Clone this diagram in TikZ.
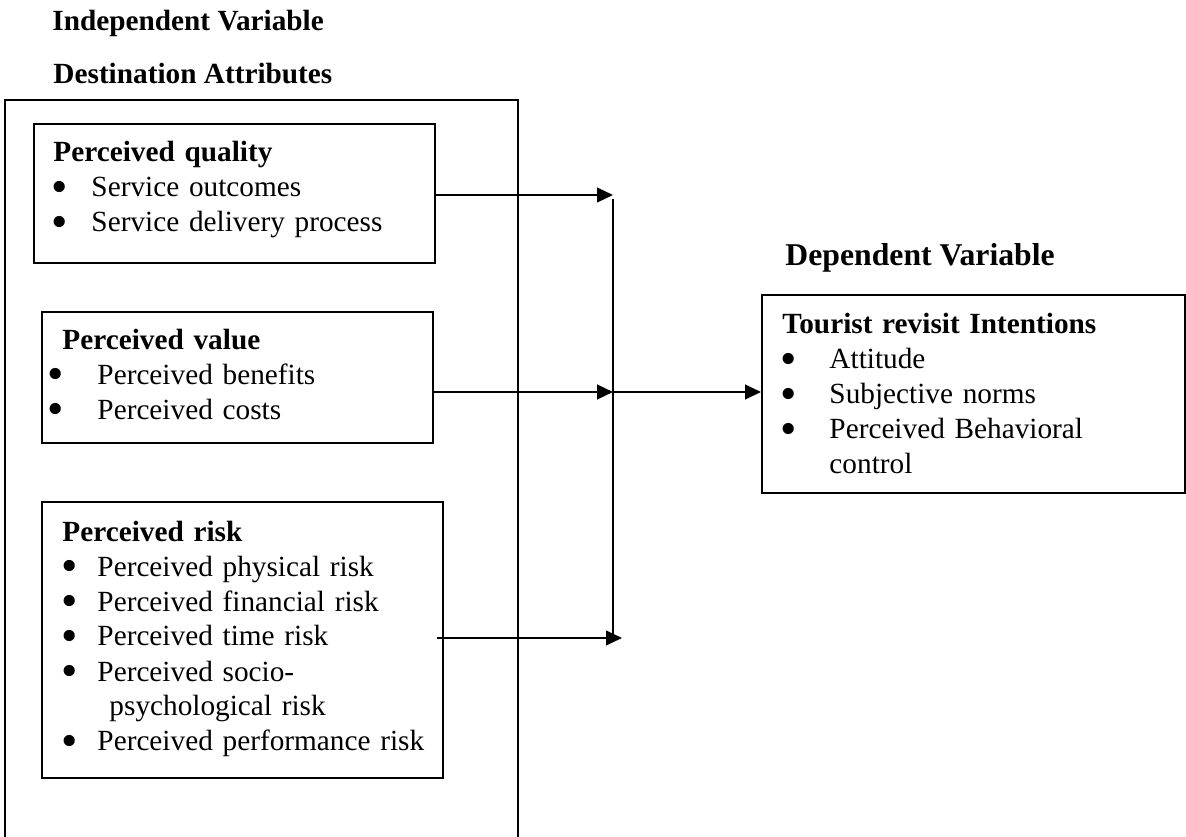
\documentclass[tikz,border=0pt]{standalone}
\usepackage{fontspec}
\setmainfont{Liberation Serif}
\usetikzlibrary{arrows.meta,positioning}
\newlength\pxu
\setlength\pxu{0.41pt}
% bullet line: bullet centre, text start (both from the node's left), text
\newcommand\bigdot{\smash{\raisebox{-0.2em}{\scalebox{1.6}{\textbullet}}}}
\newcommand\itm[3]{\makebox[#2\pxu][l]{\hspace*{#1\pxu}\makebox[0pt]{\bigdot}}#3}
\tikzset{
frame/.style={draw,line width=0.8pt,anchor=north west,inner sep=0pt},
boxtext/.style={anchor=base west,inner sep=0pt,align=left,font=\fontsize{12}{14.35}\selectfont},
heading/.style={anchor=base west,inner sep=0pt,font=\bfseries\fontsize{12}{14}\selectfont},
flow/.style={-{Triangle[length=6.5pt,width=6pt]},line width=0.8pt}
}
\begin{document}
\begin{tikzpicture}[x=\pxu,y=-\pxu]
\useasboundingbox (0,0) rectangle (1186,837);
\node[heading](indep) at (52,31){Independent Variable};
\node[heading](dest) at (53,84){Destination Attributes};
\node[heading,font=\bfseries\fontsize{13}{15}\selectfont](dep) at (785,266){Dependent Variable};
% attribute frame, open at the bottom
\draw[line width=0.6pt] (5,837) -- (5,100) -- (518,100) -- (518,837);
\node[frame,minimum width=401\pxu,minimum height=139\pxu](qual) at (33,123){};
\node[frame,minimum width=391\pxu,minimum height=131\pxu](val) at (41,311){};
\node[frame,minimum width=401\pxu,minimum height=276\pxu](risk) at (41,501){};
\node[frame,minimum width=423\pxu,minimum height=198\pxu](tri) at (761,294){};
\node[boxtext,text width=380\pxu](qualtxt) at (53,162){\textbf{Perceived quality}\\
\itm{6}{38}{Service outcomes}\\
\itm{6}{38}{Service delivery process}};
\node[boxtext,text width=380\pxu](valtxt) at (50,349){\hspace*{12\pxu}\textbf{Perceived value}\\
\itm{5}{47}{Perceived benefits}\\
\itm{5}{47}{Perceived costs}};
\node[boxtext,text width=380\pxu](risktxt) at (62,541){\textbf{Perceived risk}\\
\itm{7}{35}{Perceived physical risk}\\
\itm{7}{35}{Perceived financial risk}\\
\itm{7}{35}{Perceived time risk}\\
\itm{7}{35}{Perceived socio-}\\
\hspace*{47\pxu}psychological risk\\
\itm{7}{35}{Perceived performance risk}};
\node[boxtext,text width=390\pxu](tritxt) at (782,334){\textbf{Tourist revisit Intentions}\\
\itm{6}{47}{Attitude}\\
\itm{6}{47}{Subjective norms}\\
\itm{6}{47}{Perceived Behavioral}\\
\hspace*{47\pxu}control};
% joining line
\coordinate(j1) at (613,195);
\coordinate(j2) at (613,392);
\coordinate(j3) at (613,638);
\draw[line width=0.8pt] ([yshift=-4\pxu]j1) -- (j3);
\draw[flow](j1 -| qual.east) -- (j1);
\draw[flow](j2 -| val.east) -- (j2);
\draw[flow]([xshift=-7\pxu]j3 -| risk.east) -- ([xshift=9\pxu]j3);
\draw[flow](j2) -- (j2 -| tri.west);
\end{tikzpicture}
\end{document}
